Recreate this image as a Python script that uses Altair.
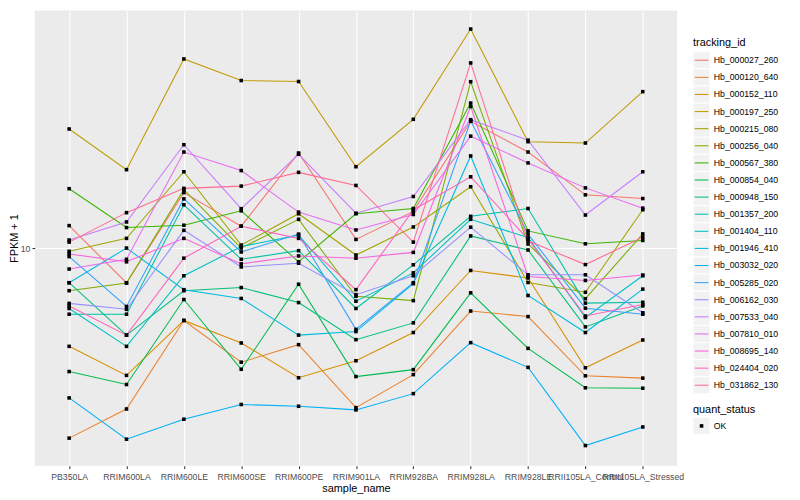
import altair as alt
import pandas as pd

samples = ["PB350LA", "RRIM600LA", "RRIM600LE", "RRIM600SE", "RRIM600PE",
           "RRIM901LA", "RRIM928BA", "RRIM928LA", "RRIM928LE",
           "RRII105LA_Control", "RRII105LA_Stressed"]

tracking_ids = ["Hb_000027_260", "Hb_000120_640", "Hb_000152_110", "Hb_000197_250",
                "Hb_000215_080", "Hb_000256_040", "Hb_000567_380", "Hb_000854_040",
                "Hb_000948_150", "Hb_001357_200", "Hb_001404_110", "Hb_001946_410",
                "Hb_003032_020", "Hb_005285_020", "Hb_006162_030", "Hb_007533_040",
                "Hb_007810_010", "Hb_008695_140", "Hb_024404_020", "Hb_031862_130"]

palette = ["#F8766D", "#EA8331", "#D89000", "#C09B00", "#A3A500", "#7CAE00", "#39B600",
           "#00BB4E", "#00BF7D", "#00C1A3", "#00BFC4", "#00BAE0", "#00B0F6", "#35A2FF",
           "#9590FF", "#C77CFF", "#E76BF3", "#FA62DB", "#FF62BC", "#FF6C91"]

# FPKM + 1 per sample (order of `samples`)
hb_000027_260 = [11.10, 8.50, 12.94, 11.07, 15.56, 10.41, 11.86, 18.03, 15.63, 12.81, 12.59]
hb_000120_640 = [4.13, 4.73, 7.14, 5.88, 6.38, 4.76, 5.55, 7.46, 7.27, 5.52, 5.46]
hb_000152_110 = [6.33, 5.53, 7.14, 6.43, 5.47, 5.92, 6.75, 9.01, 8.70, 5.73, 6.52]
hb_000197_250 = [17.4, 14.4, 24.1, 21.8, 21.7, 14.6, 18.2, 27.7, 16.4, 16.3, 20.7]
hb_000215_080 = [9.85, 10.46, 14.26, 10.14, 11.73, 9.68, 11.03, 13.30, 8.52, 8.14, 11.95]
hb_000256_040 = [8.20, 8.50, 13.12, 10.00, 11.43, 7.99, 7.83, 21.68, 10.19, 7.90, 10.68]
hb_000567_380 = [13.18, 11.00, 11.12, 11.89, 9.38, 11.73, 12.02, 19.63, 10.83, 10.20, 10.36]
hb_000854_040 = [5.63, 5.30, 7.87, 5.69, 8.45, 5.50, 5.68, 8.12, 6.27, 5.22, 5.21]
hb_000948_150 = [8.51, 6.67, 8.20, 8.32, 7.76, 6.53, 7.06, 10.58, 9.91, 6.93, 7.64]
hb_001357_200 = [7.35, 7.35, 12.23, 9.49, 9.88, 7.55, 9.25, 11.59, 12.02, 7.74, 7.77]
hb_001404_110 = [7.55, 6.33, 8.79, 10.07, 10.62, 7.81, 8.91, 11.43, 10.50, 7.24, 8.79]
hb_001946_410 = [8.51, 10.00, 8.24, 7.91, 6.67, 6.78, 8.47, 15.35, 8.02, 6.75, 8.26]
hb_003032_020 = [4.98, 4.11, 4.51, 4.83, 4.79, 4.71, 5.08, 6.44, 5.74, 3.99, 4.35]
hb_005285_020 = [9.61, 7.62, 12.57, 9.82, 10.67, 6.85, 8.51, 18.07, 10.67, 7.56, 7.35]
hb_006162_030 = [7.73, 7.52, 10.86, 9.16, 9.32, 8.05, 8.79, 11.02, 8.83, 8.83, 7.40]
hb_007533_040 = [10.38, 11.29, 16.17, 12.01, 15.47, 11.76, 12.71, 18.17, 16.52, 11.66, 14.26]
hb_007810_010 = [9.07, 9.49, 15.63, 14.34, 11.82, 10.88, 11.69, 16.83, 14.86, 13.23, 12.04]
hb_008695_140 = [9.73, 9.38, 10.46, 9.29, 9.64, 9.54, 9.80, 19.32, 8.76, 8.60, 8.82]
hb_024404_020 = [7.64, 6.67, 9.54, 11.07, 10.46, 8.24, 11.94, 13.93, 10.42, 7.29, 7.69]
hb_031862_130 = [10.28, 11.79, 13.20, 13.34, 14.22, 13.38, 10.28, 23.66, 10.34, 9.26, 10.52]

series = [hb_000027_260, hb_000120_640, hb_000152_110, hb_000197_250, hb_000215_080,
          hb_000256_040, hb_000567_380, hb_000854_040, hb_000948_150, hb_001357_200,
          hb_001404_110, hb_001946_410, hb_003032_020, hb_005285_020, hb_006162_030,
          hb_007533_040, hb_007810_010, hb_008695_140, hb_024404_020, hb_031862_130]

quant_levels = ["OK"]
y_ticks = [10]

rows = []
for tid, vals in zip(tracking_ids, series):
    for i, (s, v) in enumerate(zip(samples, vals)):
        rows.append({"tracking_id": tid, "sample_name": s, "idx": i,
                     "fpkm": v, "quant_status": quant_levels[0]})
df = pd.DataFrame(rows)

FONT = "Liberation Sans"
color_scale = alt.Scale(domain=tracking_ids, range=palette)

x_enc = alt.X("sample_name:N", sort=samples,
              scale=alt.Scale(type="point", padding=0.6),
              axis=alt.Axis(title="sample_name", labelAngle=0, labelOverlap=False,
                            labelFontSize=8.8, labelColor="#4D4D4D", labelPadding=4.2,
                            tickSize=2.75, tickColor="#333333", tickWidth=1.07,
                            domain=False, grid=True, gridColor="white", gridWidth=1.07,
                            titleFontSize=11, titleColor="black", titleFontWeight="normal",
                            titlePadding=1, labelFont=FONT, titleFont=FONT))
y_enc = alt.Y("fpkm:Q",
              scale=alt.Scale(type="log", domain=[3.631, 30.2], nice=False, zero=False),
              axis=alt.Axis(values=y_ticks, format="d", title="FPKM + 1",
                            labelFontSize=8.8, labelColor="#4D4D4D", labelPadding=2.2,
                            tickSize=2.75, tickColor="#333333", tickWidth=1.07,
                            domain=False, grid=True, gridColor="white", gridWidth=1.07,
                            titleFontSize=11, titleColor="black", titleFontWeight="normal",
                            titlePadding=1, labelFont=FONT, titleFont=FONT))

base = alt.Chart(df).encode(x=x_enc, y=y_enc)
lines = base.mark_line(strokeWidth=1.07).encode(
    color=alt.Color("tracking_id:N", scale=color_scale, legend=None),
    order=alt.Order("idx:Q"))
points = base.mark_point(shape="square", filled=True, size=13, color="black", opacity=1)

main = alt.layer(lines, points).properties(
    width=649, height=460,
    view=alt.ViewBackground(fill="#EBEBEB", stroke=None))

# ----- legend panel -----
leg_df = pd.DataFrame({"tracking_id": tracking_ids})
y_leg = alt.Y("tracking_id:N", sort=tracking_ids,
              scale=alt.Scale(type="point", domain=tracking_ids, range=[50.3, 378.6], padding=0),
              axis=None)
keys = alt.Chart(leg_df).mark_square(size=298, fill="#F2F2F2", stroke="white",
                                     strokeWidth=1, filled=True, opacity=1).encode(
    y=y_leg, x=alt.value(8.64))
key_lines = alt.Chart(leg_df).mark_rule(strokeWidth=1.07).encode(
    y=y_leg, x=alt.value(1.7), x2=alt.value(15.6),
    color=alt.Color("tracking_id:N", scale=color_scale, legend=None))
key_text = alt.Chart(leg_df).mark_text(align="left", baseline="middle", fontSize=8.8,
                                       color="black", font=FONT).encode(
    y=y_leg, x=alt.value(21), text="tracking_id:N")
title1 = alt.Chart(pd.DataFrame({"t": ["tracking_id"]})).mark_text(
    align="left", baseline="middle", fontSize=11, color="black", font=FONT).encode(
    x=alt.value(0), y=alt.value(32.7), text="t:N")

q_df = pd.DataFrame({"quant_status": quant_levels})
q_title = alt.Chart(pd.DataFrame({"t": ["quant_status"]})).mark_text(
    align="left", baseline="middle", fontSize=11, color="black", font=FONT).encode(
    x=alt.value(0), y=alt.value(403.7), text="t:N")
q_key = alt.Chart(q_df).mark_square(size=298, fill="#F2F2F2", stroke="white",
                                    strokeWidth=1, filled=True, opacity=1).encode(
    x=alt.value(8.64), y=alt.value(419.7))
q_point = alt.Chart(q_df).mark_square(size=13, color="black", opacity=1).encode(
    x=alt.value(8.64), y=alt.value(419.7))
q_text = alt.Chart(q_df).mark_text(align="left", baseline="middle", fontSize=8.8,
                                   color="black", font=FONT).encode(
    x=alt.value(21), y=alt.value(419.7), text="quant_status:N")

legend = alt.layer(keys, key_lines, key_text, title1, q_title, q_key, q_point, q_text).properties(
    width=100, height=460, view=alt.ViewBackground(stroke=None))

chart = alt.hconcat(main, legend, spacing=16).properties(
    padding={"left": 0, "top": 0, "right": 0, "bottom": 0},
    bounds="flush",
).configure(font=FONT).configure_view(stroke=None)

chart.save("out.html", embed_options={"renderer": "svg", "actions": False})
